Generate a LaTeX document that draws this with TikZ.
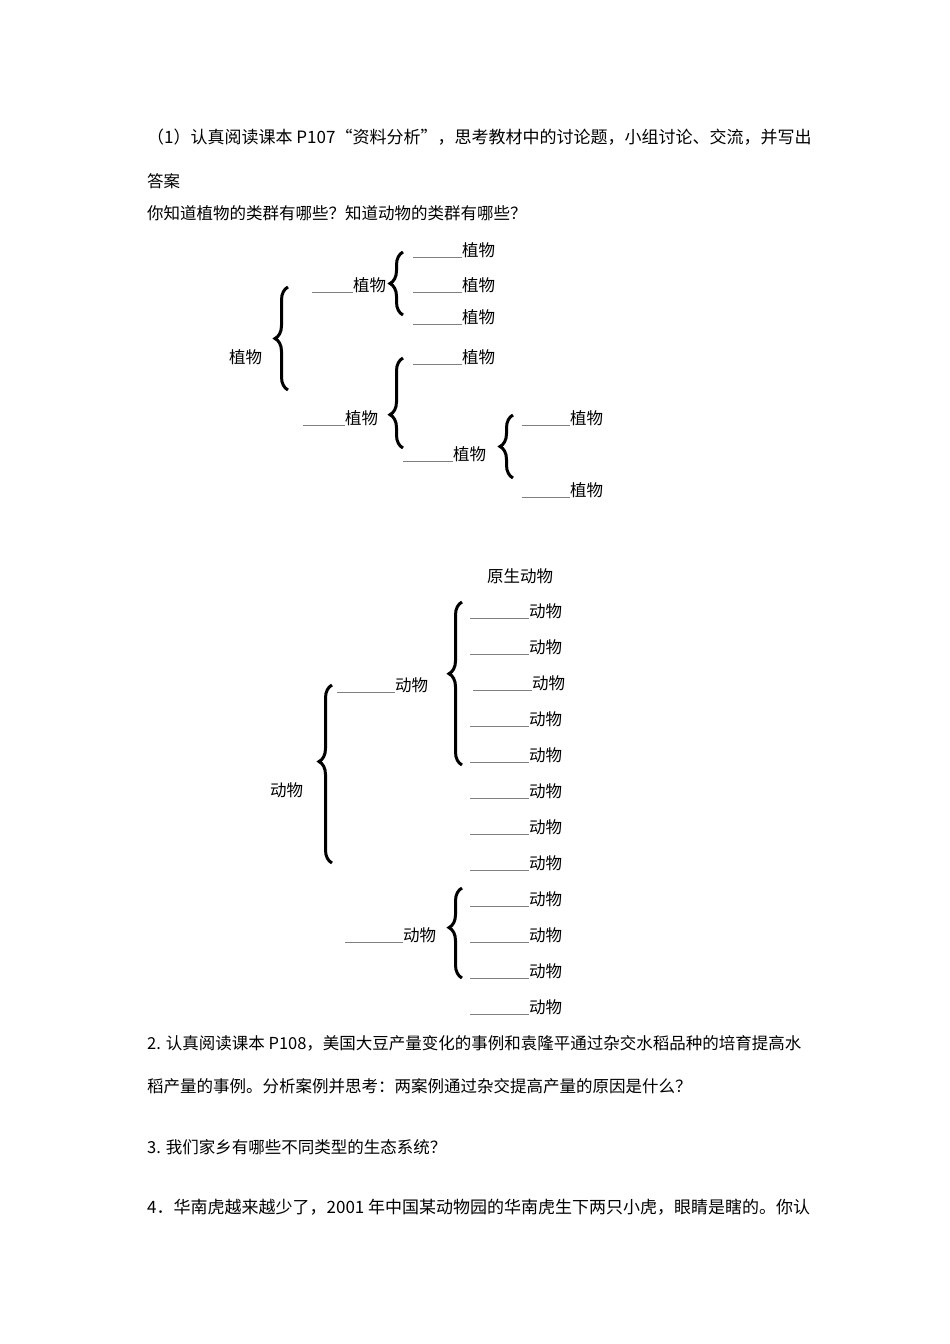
\documentclass[tikz,border=0pt]{standalone}
\usepackage{fontspec}
\setmainfont{Noto Sans CJK SC}
\usetikzlibrary{decorations.pathreplacing}
\newcommand{\blank}[1]{{\color{black!50}\rule[-1.5pt]{#1}{0.8pt}}}
\begin{document}
\begin{tikzpicture}[x=1pt, y=-1pt,
  txt/.style={anchor=west, inner sep=0pt, font=\fontsize{16.5}{18}\selectfont},
  wide/.style={txt, font=\fontsize{17}{18}\selectfont},
  brc/.style={decorate, line width=3pt, decoration={brace, amplitude=13pt, aspect=#1}},
  brc/.default=0.5]
\useasboundingbox (0,0) rectangle (950,1344);
% questions
\node[wide] (L_1) at (147,137) {（1）认真阅读课本 P107“资料分析”，思考教材中的讨论题，小组讨论、交流，并写出};
\node[txt] (L_2) at (147,181) {答案};
\node[txt] (L_3) at (147,213) {你知道植物的类群有哪些？知道动物的类群有哪些？};
% plants
\node[txt] (P_0_0) at (229,357) {植物};
\coordinate (B_0_s) at (288,390);
\coordinate (B_0_e) at (288,287);
\draw[brc] (B_0_s) -- (B_0_e);
\node[txt] (P_1_0) at (312,285) {\blank{41pt}植物};
\coordinate (B_1_s) at (403,315);
\coordinate (B_1_e) at (403,252);
\draw[brc] (B_1_s) -- (B_1_e);
\node[txt] (P_2_0) at (413,250) {\blank{49pt}植物};
\node[txt] (P_2_1) at (413,285) {\blank{49pt}植物};
\node[txt] (P_2_2) at (413,317) {\blank{49pt}植物};
\node[txt] (P_1_1) at (303,418) {\blank{42pt}植物};
\coordinate (B_2_s) at (403,448);
\coordinate (B_2_e) at (403,358);
\draw[brc=0.37] (B_2_s) -- (B_2_e);
\node[txt] (P_2_3) at (413,357) {\blank{49pt}植物};
\node[txt] (P_2_4) at (403,454) {\blank{50pt}植物};
\coordinate (B_3_s) at (513,478);
\coordinate (B_3_e) at (513,415);
\draw[brc] (B_3_s) -- (B_3_e);
\node[txt] (P_3_0) at (522,418) {\blank{48pt}植物};
\node[txt] (P_3_1) at (522,490) {\blank{48pt}植物};
% animals
\node[txt] (A_top) at (487,576) {原生动物};
\node[txt] (A_0_0) at (270,790) {动物};
\coordinate (C_0_s) at (332,863);
\coordinate (C_0_e) at (332,685);
\draw[brc=0.57] (C_0_s) -- (C_0_e);
\node[txt] (A_1_0) at (337,685) {\blank{58pt}动物};
\coordinate (C_1_s) at (462,765);
\coordinate (C_1_e) at (462,602);
\draw[brc=0.56] (C_1_s) -- (C_1_e);
\node[txt] (A_2_0) at (470,611) {\blank{59pt}动物};
\node[txt] (A_2_1) at (470,647) {\blank{59pt}动物};
\node[txt] (A_2_2) at (473,683) {\blank{59pt}动物};
\node[txt] (A_2_3) at (470,719) {\blank{59pt}动物};
\node[txt] (A_2_4) at (470,755) {\blank{59pt}动物};
\node[txt] (A_2_5) at (470,791) {\blank{59pt}动物};
\node[txt] (A_2_6) at (470,827) {\blank{59pt}动物};
\node[txt] (A_2_7) at (470,863) {\blank{59pt}动物};
\node[txt] (A_1_1) at (345,935) {\blank{58pt}动物};
\coordinate (C_2_s) at (462,978);
\coordinate (C_2_e) at (462,888);
\draw[brc=0.56] (C_2_s) -- (C_2_e);
\node[txt] (A_2_8) at (470,899) {\blank{59pt}动物};
\node[txt] (A_2_9) at (470,935) {\blank{59pt}动物};
\node[txt] (A_2_10) at (470,971) {\blank{59pt}动物};
\node[txt] (A_2_11) at (470,1007) {\blank{59pt}动物};
% more questions
\node[txt] (L_4) at (147,1043) {2. 认真阅读课本 P108，美国大豆产量变化的事例和袁隆平通过杂交水稻品种的培育提高水};
\node[txt] (L_5) at (147,1086) {稻产量的事例。分析案例并思考：两案例通过杂交提高产量的原因是什么？};
\node[txt] (L_6) at (147,1147) {3. 我们家乡有哪些不同类型的生态系统？};
\node[wide] (L_7) at (147,1207) {4．华南虎越来越少了，2001 年中国某动物园的华南虎生下两只小虎，眼睛是瞎的。你认};
\end{tikzpicture}
\end{document}
